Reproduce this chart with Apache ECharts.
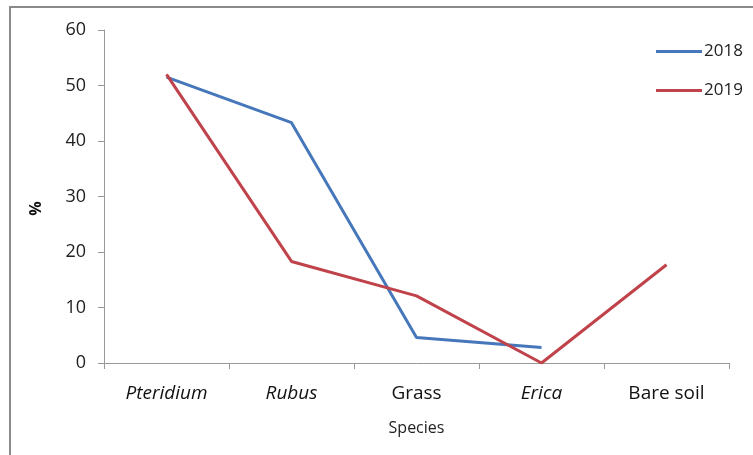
<!DOCTYPE html>
<html>
<head>
<meta charset="utf-8">
<script src="https://cdn.jsdelivr.net/npm/echarts@6/dist/echarts.min.js"></script>
<style>
  html, body { margin: 0; padding: 0; background: #fff; }
  #chart { width: 753px; height: 455px; }
</style>
</head>
<body>
<div id="chart"></div>
<script>
// Ground cover by species, two survey years
const categories = ['Pteridium', 'Rubus', 'Grass', 'Erica', 'Bare soil'];
const italicNames = ['Pteridium', 'Rubus', 'Erica'];
const values2018 = [51.5, 43.3, 4.6, 2.8, null];
const values2019 = [52, 18.3, 12.1, 0, 17.7];
const yTicks = [0, 10, 20, 30, 40, 50, 60];

const font = '"Open Sans", "Noto Sans", "Liberation Sans", sans-serif';
const chart = echarts.init(document.getElementById('chart'));

chart.setOption({
  animation: false,
  backgroundColor: '#fff',
  textStyle: { fontFamily: font },
  graphic: [{
    type: 'rect',
    shape: { x: 10, y: 7, width: 760, height: 460 },
    style: { fill: 'none', stroke: '#8a8a8a', lineWidth: 2 },
    silent: true
  }],
  grid: { left: 104, right: 24, top: 30, bottom: 92 },
  legend: {
    orient: 'vertical',
    left: 651,
    top: 38,
    icon: 'rect',
    itemWidth: 46,
    itemHeight: 3,
    itemGap: 22,
    textStyle: { fontSize: 17, color: '#222', fontFamily: font, padding: [0, 0, 0, -3] },
    data: ['2018', '2019']
  },
  xAxis: {
    type: 'category',
    data: categories,
    boundaryGap: true,
    name: 'Species',
    nameLocation: 'middle',
    nameGap: 57,
    nameTextStyle: { fontSize: 16, color: '#222', fontFamily: font },
    axisLine: { lineStyle: { color: '#999', width: 1 } },
    axisTick: { show: true, interval: 0, length: 6, lineStyle: { color: '#999' } },
    axisLabel: {
      interval: 0,
      margin: 21,
      fontSize: 19,
      color: '#111',
      fontFamily: font,
      formatter: v => italicNames.includes(v) ? '{i|' + v + '}' : v,
      rich: { i: { fontStyle: 'italic', fontSize: 19, color: '#111', fontFamily: font } }
    }
  },
  yAxis: {
    type: 'value',
    min: yTicks[0],
    max: yTicks[yTicks.length - 1],
    interval: 10,
    name: '%',
    nameLocation: 'middle',
    nameRotate: 90,
    nameGap: 60,
    nameTextStyle: { fontSize: 16, fontWeight: 'bold', color: '#111', fontFamily: font, padding: [0, 24, 0, 0] },
    splitLine: { show: false },
    axisLine: { show: true, lineStyle: { color: '#999', width: 1 } },
    axisTick: { show: true, length: 6, lineStyle: { color: '#999' } },
    axisLabel: { margin: 18, fontSize: 18, color: '#222', fontFamily: font }
  },
  series: [
    {
      name: '2018',
      type: 'line',
      data: values2018,
      symbol: 'none',
      connectNulls: false,
      lineStyle: { color: '#4677bb', width: 3 },
      itemStyle: { color: '#4677bb' }
    },
    {
      name: '2019',
      type: 'line',
      data: values2019,
      symbol: 'none',
      lineStyle: { color: '#c0424a', width: 3 },
      itemStyle: { color: '#c0424a' }
    }
  ]
});
</script>
</body>
</html>
